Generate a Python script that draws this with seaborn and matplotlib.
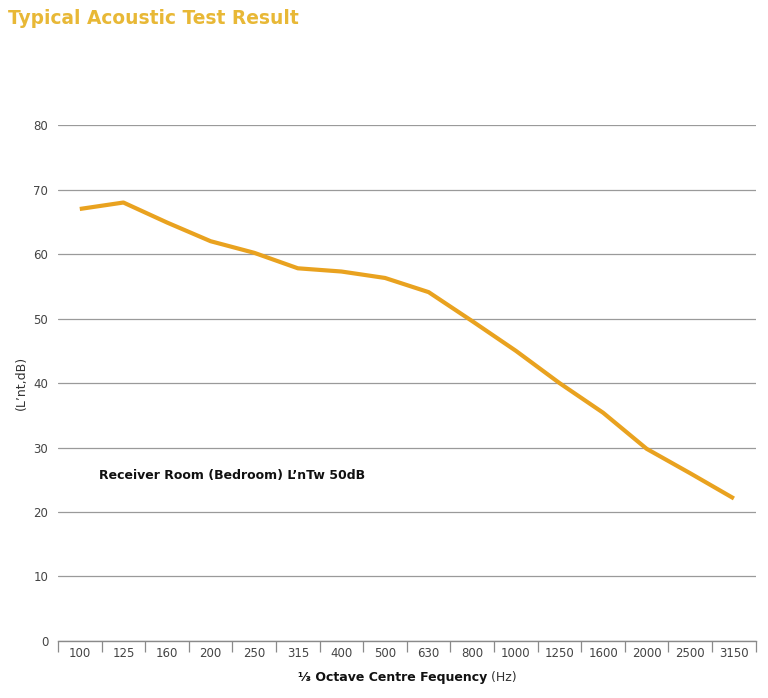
import pandas as pd
import seaborn as sns
import matplotlib.pyplot as plt
from matplotlib.ticker import FixedLocator

freqs = ["100", "125", "160", "200", "250", "315", "400", "500",
         "630", "800", "1000", "1250", "1600", "2000", "2500", "3150"]
levels = [67.0, 68.0, 64.9, 62.0, 60.2, 57.8, 57.3, 56.3,
          54.1, 49.6, 45.0, 40.0, 35.4, 29.8, 26.0, 22.1]
y_ticks = [0, 10, 20, 30, 40, 50, 60, 70, 80]
note = "Receiver Room (Bedroom) L\u2019nTw 50dB"

df = pd.DataFrame({"freq": freqs, "level": levels})

sns.set_style("white")
plt.rcParams["font.family"] = ["DejaVu Sans"]

fig = plt.figure(figsize=(7.68, 6.98), dpi=100)
ax = fig.add_axes([0.0755, 0.0817, 0.9085, 0.739])

sns.lineplot(data=df, x="freq", y="level", color="#E9A21F", linewidth=3.0,
             solid_capstyle="butt", ax=ax)

ax.set_xlim(-0.5, len(freqs) - 0.5)
ax.set_ylim(0, 80)
ax.set_yticks(y_ticks)
ax.yaxis.grid(True, color="#9a9a9a", linewidth=0.9)
ax.set_axisbelow(True)
for s in ["top", "right", "left"]:
    ax.spines[s].set_visible(False)
ax.spines["bottom"].set_color("#8a8a8a")
ax.spines["bottom"].set_linewidth(1.0)

ax.tick_params(axis="y", length=0, pad=7, labelsize=8.5, labelcolor="#444444")
ax.tick_params(axis="x", which="major", bottom=True, length=0, pad=4,
               labelsize=8.5, labelcolor="#444444")
ax.xaxis.set_minor_locator(FixedLocator([i - 0.5 for i in range(len(freqs) + 1)]))
ax.tick_params(axis="x", which="minor", bottom=True, length=8, width=0.9,
               color="#8a8a8a", direction="out")

ax.set_xlabel("")
ax.set_ylabel("(L\u2019nt,dB)", fontsize=9, color="#333333", labelpad=4)

t1 = fig.text(0.511, 0.02, "\u2153 Octave Centre Fequency", fontsize=9,
              fontweight="bold", ha="center", va="bottom", color="#111111")
ax.annotate(" (Hz)", xy=(1, 0), xycoords=t1, va="bottom", ha="left",
            fontsize=9, color="#333333")

ax.text(0.44, 25.6, note, fontsize=9, fontweight="bold", color="#111111",
        ha="left", va="center")

fig.text(0.011, 0.974, "Typical Acoustic Test Result", fontsize=13.4,
         fontweight="bold", color="#E8B836", ha="left", va="center")

fig.savefig("out.png", dpi=100)
